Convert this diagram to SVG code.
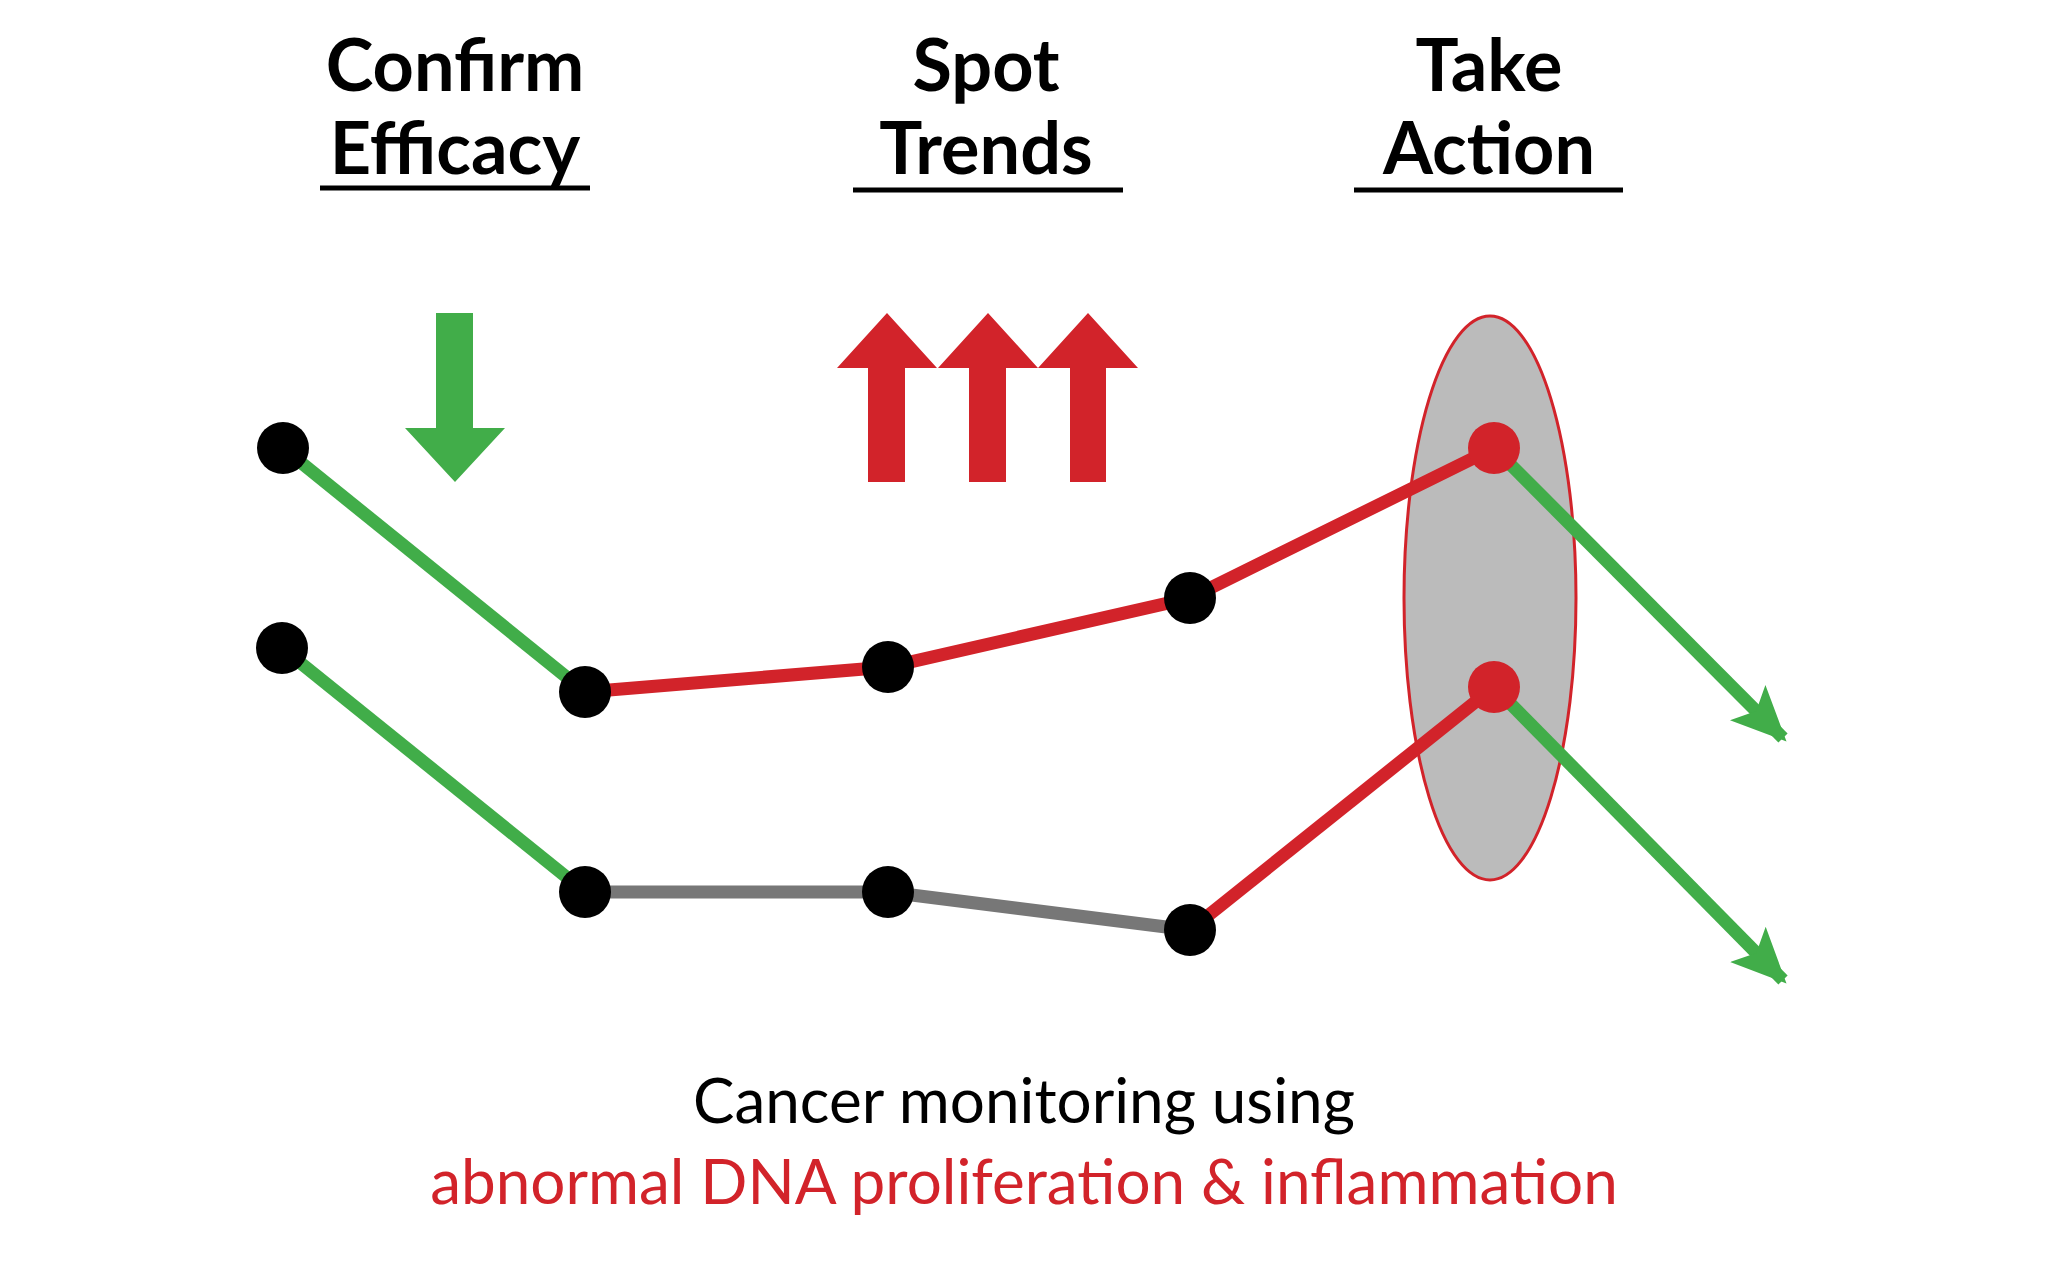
<svg xmlns="http://www.w3.org/2000/svg" width="2048" height="1271" viewBox="0 0 2048 1271">
<style>
.t{font-family:Lato,"Liberation Sans",sans-serif;font-weight:bold;font-size:72px;text-anchor:middle;fill:#000}
.b{font-family:Lato,"Liberation Sans",sans-serif;font-size:62px;text-anchor:middle}
.g{stroke:#41ad49;stroke-width:13;fill:none}
.r{stroke:#d2232a;stroke-width:13;fill:none}
.k{stroke:#777;stroke-width:13;fill:none}
.u{stroke:#000;stroke-width:5}
</style>
<defs><marker id="ah" markerUnits="userSpaceOnUse" markerWidth="60" markerHeight="60" refX="50" refY="25" orient="auto" viewBox="0 0 60 50"><path d="M0,0 L55,25 L0,50 L12,25 Z" fill="#41ad49"/></marker></defs>
<rect width="2048" height="1271" fill="#fff"/>
<g id="titles">
<text class="t" x="455" y="91">Confirm</text><text class="t" x="455" y="174">Efficacy</text><line class="u" x1="320" y1="188" x2="590" y2="188"/>
<text class="t" x="986" y="91">Spot</text><text class="t" x="986" y="174">Trends</text><line class="u" x1="853" y1="190" x2="1123" y2="190"/>
<text class="t" x="1489" y="91">Take</text><text class="t" x="1489" y="174">Action</text><line class="u" x1="1354" y1="190" x2="1623" y2="190"/>
</g>
<g id="arrows">
<path d="M436,313 H473 V428 H505 L455,482 L405,428 H436 Z" fill="#41ad49"/>
<path d="M868,482 V368 H837 L887,313 L937,368 H905 V482 Z" fill="#d2232a"/>
<path d="M969,482 V368 H938 L988,313 L1038,368 H1006 V482 Z" fill="#d2232a"/>
<path d="M1070,482 V368 H1038 L1088,313 L1138,368 H1106 V482 Z" fill="#d2232a"/>
</g>
<g id="ellipse"><ellipse cx="1490" cy="598" rx="86" ry="282" fill="#bbb" stroke="#d2232a" stroke-width="3"/></g>
<g id="connectors">
<polyline class="g" points="283,448 585,692"/>
<polyline class="r" points="585,692 888,667 1190,598 1494,448"/>
<line class="g" x1="1494" y1="448" x2="1783" y2="738" marker-end="url(#ah)"/>
<polyline class="g" points="282,648 585,892"/>
<polyline class="k" points="585,892 888,892 1190,930"/>
<polyline class="r" points="1190,930 1494,687"/>
<line class="g" x1="1494" y1="687" x2="1783" y2="980" marker-end="url(#ah)"/>
</g>
<g id="dots">
<circle cx="283" cy="448" r="26"/><circle cx="585" cy="692" r="26"/><circle cx="888" cy="667" r="26"/><circle cx="1190" cy="598" r="26"/><circle cx="1494" cy="448" r="26" fill="#d2232a"/>
<circle cx="282" cy="648" r="26"/><circle cx="585" cy="892" r="26"/><circle cx="888" cy="892" r="26"/><circle cx="1190" cy="930" r="26"/><circle cx="1494" cy="687" r="26" fill="#d2232a"/>
</g>
<g id="caption">
<text class="b" x="1024" y="1123" fill="#000">Cancer monitoring using</text>
<text class="b" x="1024" y="1204" fill="#d2232a">abnormal DNA proliferation &amp; inflammation</text>
</g>
</svg>
